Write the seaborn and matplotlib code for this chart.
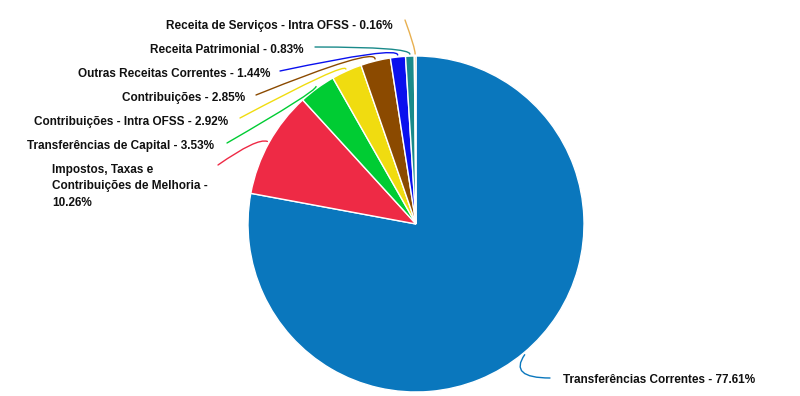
import numpy as np
import matplotlib
matplotlib.use("Agg")
import matplotlib.pyplot as plt
import seaborn as sns

labels = [
    "Transferências Correntes",
    "Impostos, Taxas e\nContribuições de Melhoria -\n",
    "Transferências de Capital",
    "Contribuições - Intra OFSS",
    "Contribuições",
    "Outras Receitas Correntes",
    "Receita Patrimonial",
    "Receita de Serviços - Intra OFSS",
]
values = [77.61, 10.26, 3.53, 2.92, 2.85, 1.44, 0.83, 0.16]
colors = ["#0a77bd", "#ee2a45", "#00cc33", "#f0dc10", "#8b4a00", "#0a10ee", "#1a8a8a", "#e8b050"]

sns.set_theme(style="white")
plt.rcParams["font.family"] = ["Liberation Sans", "DejaVu Sans"]

W, H = 800, 396
fig = plt.figure(figsize=(W / 100, H / 100), dpi=100)
ax = fig.add_axes([0, 0, 1, 1])
cx, cy, r = 416, H - 224, 168
wedges, _ = ax.pie(values, colors=colors, startangle=90, counterclock=False,
                   center=(cx, cy), radius=r,
                   wedgeprops=dict(edgecolor="white", linewidth=1))
ax.set_xlim(0, W)
ax.set_ylim(0, H)
ax.set_aspect("equal")
ax.axis("off")

def lbl(i):
    if i == 1:
        return labels[i] + f"{values[i]:.2f}%"
    return f"{labels[i]} - {values[i]:.2f}%"

# text anchor (pixel coords, y from top), alignment, leader start, angles
specs = [
    dict(tx=563, ty=380, ha="left", lx=550, ly=378, angA=180, angB=55),
    dict(tx=52, ty=186, ha="left", lx=218, ly=165, angA=35, angB=160),
    dict(tx=214, ty=146, ha="right", lx=227, ly=143, angA=30, angB=90),
    dict(tx=228, ty=122, ha="right", lx=240, ly=118, angA=28, angB=90),
    dict(tx=245, ty=98, ha="right", lx=256, ly=95, angA=22, angB=90),
    dict(tx=270, ty=74, ha="right", lx=280, ly=71, angA=12, angB=90),
    dict(tx=304, ty=50, ha="right", lx=315, ly=47, angA=0, angB=90),
    dict(tx=393, ty=26, ha="right", lx=405, ly=20, angA=-70, angB=90),
]

for i, (w, s) in enumerate(zip(wedges, specs)):
    ang = np.deg2rad((w.theta1 + w.theta2) / 2)
    px = cx + (r + 2) * np.cos(ang)
    py = cy + (r + 2) * np.sin(ang)
    ax.text(s["tx"], H - s["ty"], lbl(i), ha=s["ha"], va="center",
            fontsize=8.5, fontweight="bold", color="#111111", linespacing=1.5)
    ax.annotate("", xy=(px, py), xytext=(s["lx"], H - s["ly"]),
                arrowprops=dict(arrowstyle="-", color=colors[i], lw=1,
                                shrinkA=0, shrinkB=0,
                                connectionstyle=f"angle3,angleA={s['angA']},angleB={s['angB']}"))

fig.savefig("out.png", dpi=100, facecolor="white")
